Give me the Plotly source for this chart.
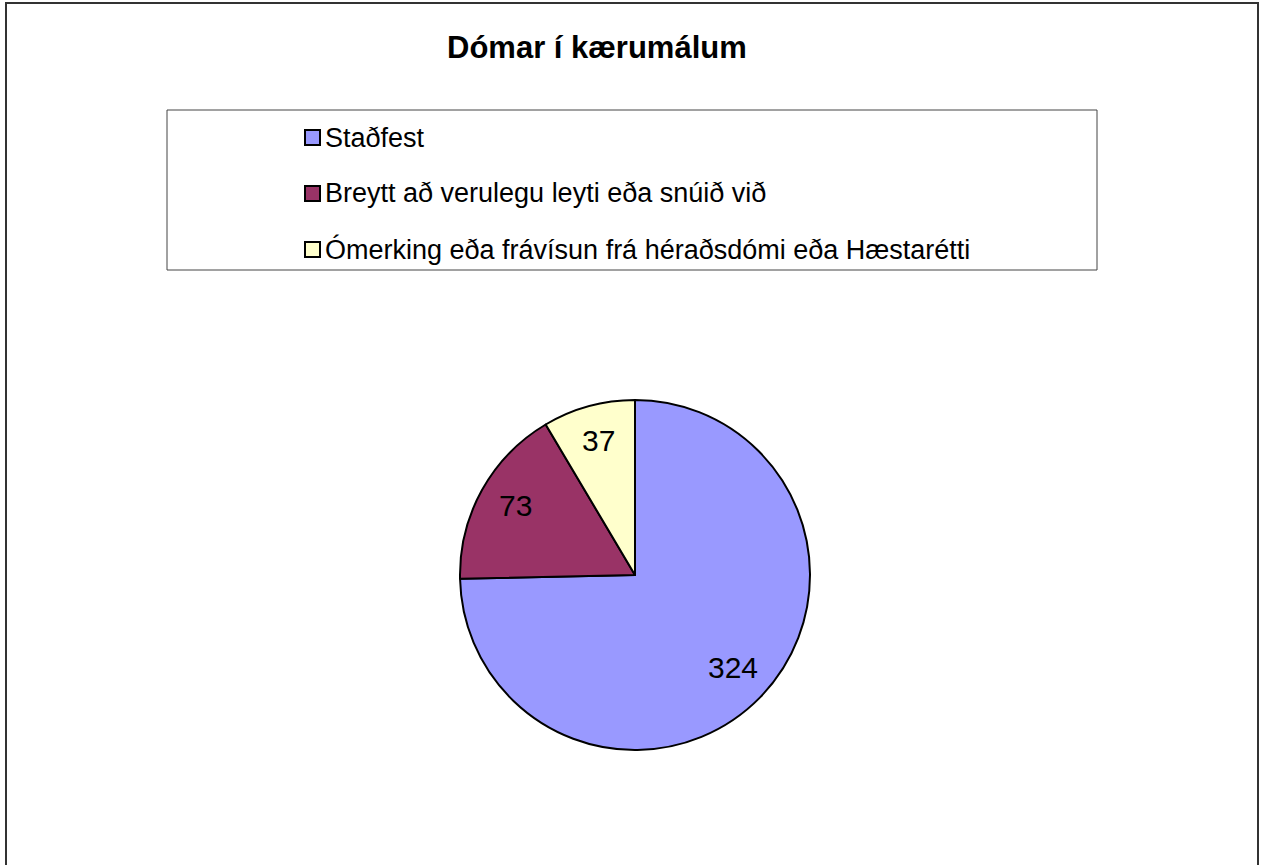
import math
import plotly.graph_objects as go

W, H = 1262, 865
title = "Dómar í kærumálum"
labels = ["Staðfest", "Breytt að verulegu leyti eða snúið við",
          "Ómerking eða frávísun frá héraðsdómi eða Hæstarétti"]
values = [324, 73, 37]
colors = ["#9999FF", "#993366", "#FFFFCC"]

FONT = "Liberation Sans, Arial"

def px(x):
    return x / W

def py(y):
    return 1 - y / H

cx, cy, r = 635, 575, 175

fig = go.Figure(go.Pie(
    labels=labels, values=values, sort=False, direction="clockwise", rotation=0,
    marker=dict(colors=colors, line=dict(color="black", width=2)),
    textinfo="none",
    domain=dict(x=[px(cx - r), px(cx + r)], y=[py(cy + r), py(cy - r)]),
    showlegend=False, hoverinfo="label+value+percent",
))

shapes = [
    dict(type="rect", xref="paper", yref="paper", x0=px(6), x1=px(1258), y0=py(880), y1=py(3),
         line=dict(color="#333333", width=2), fillcolor="rgba(0,0,0,0)"),
    dict(type="rect", xref="paper", yref="paper", x0=px(167), x1=px(1097), y0=py(270), y1=py(110),
         line=dict(color="#444444", width=1), fillcolor="rgba(0,0,0,0)"),
]
annotations = [
    dict(text="<b>" + title + "</b>", xref="paper", yref="paper", x=px(597), y=py(47),
         showarrow=False, font=dict(family=FONT, size=31, color="black"),
         xanchor="center", yanchor="middle"),
]
for i, (lab, col) in enumerate(zip(labels, colors)):
    yc = 137.5 + i * 56
    shapes.append(dict(type="rect", xref="paper", yref="paper", x0=px(305), x1=px(320),
                       y0=py(yc + 7.5), y1=py(yc - 7.5), fillcolor=col,
                       line=dict(color="black", width=2)))
    annotations.append(dict(text=lab, xref="paper", yref="paper", x=px(323), y=py(yc),
                            showarrow=False, xanchor="left", yanchor="middle",
                            font=dict(family=FONT, size=27, color="black")))

# slice value labels, placed at the middle angle of each slice
total = sum(values)
cum = 0
for v in values:
    mid = (cum + v / 2) / total * 2 * math.pi
    cum += v
    lx = cx + 0.78 * r * math.sin(mid)
    ly = cy - 0.78 * r * math.cos(mid) - 3
    annotations.append(dict(text=str(v), xref="paper", yref="paper", x=px(lx), y=py(ly),
                            showarrow=False, xanchor="center", yanchor="middle",
                            font=dict(family=FONT, size=30, color="black")))

fig.update_layout(width=W, height=H, margin=dict(l=0, r=0, t=0, b=0),
                  paper_bgcolor="white", plot_bgcolor="white",
                  shapes=shapes, annotations=annotations)
fig.write_html("out.html", config={"displayModeBar": False},
               post_script="document.body.style.margin='0px';")
